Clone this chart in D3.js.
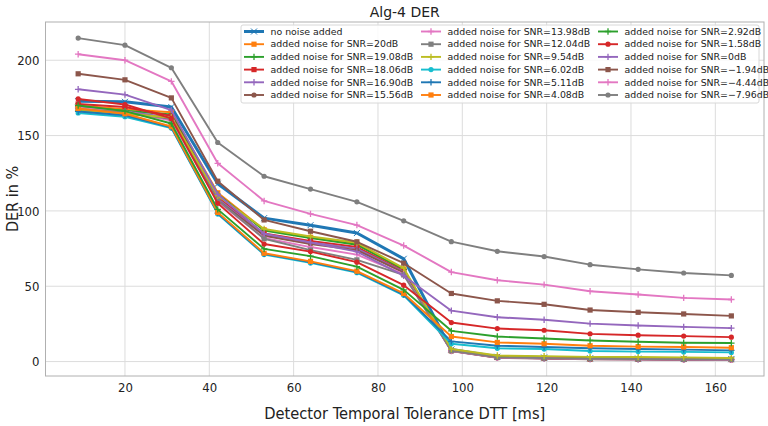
<!DOCTYPE html>
<html>
<head>
<meta charset="utf-8">
<script src="https://cdn.jsdelivr.net/npm/d3@7"></script>
<style>
  body { margin: 0; background: #fff; }
  text { font-family: "DejaVu Sans", sans-serif; }
  .tick text, .axis-label { font-family: "DejaVu Sans Condensed", "DejaVu Sans", sans-serif; font-stretch: condensed; }
</style>
</head>
<body>
<svg width="768" height="426"></svg>
<script>
// DTT values (ms) on the x axis
const dtt = [8.9, 20.0, 31.0, 42.0, 53.0, 64.0, 75.0, 86.1, 97.4, 108.3, 119.4, 130.3, 141.7, 152.5, 163.8];

const seriesLabels = [
  "no noise added",
  "added noise for SNR=20dB",
  "added noise for SNR=19.08dB",
  "added noise for SNR=18.06dB",
  "added noise for SNR=16.90dB",
  "added noise for SNR=15.56dB",
  "added noise for SNR=13.98dB",
  "added noise for SNR=12.04dB",
  "added noise for SNR=9.54dB",
  "added noise for SNR=6.02dB",
  "added noise for SNR=5.11dB",
  "added noise for SNR=4.08dB",
  "added noise for SNR=2.92dB",
  "added noise for SNR=1.58dB",
  "added noise for SNR=0dB",
  "added noise for SNR=\u22121.94dB",
  "added noise for SNR=\u22124.44dB",
  "added noise for SNR=\u22127.96dB"
];

// DER in % for each series
const derNoNoise = [172.8, 172.4, 168.9, 118.0, 95.2, 90.5, 85.3, 68.2, 8.0, 3.2, 2.7, 2.2, 2.0, 1.8, 1.6];
const der20 = [170.0, 167.5, 165.5, 112.0, 87.5, 82.5, 78.0, 61.5, 7.5, 3.0, 2.4, 1.9, 1.8, 1.6, 1.5];
const der1908 = [169.0, 166.5, 164.0, 111.0, 87.0, 82.0, 77.5, 61.0, 7.3, 2.8, 2.3, 1.8, 1.7, 1.5, 1.4];
const der1806 = [171.0, 169.0, 163.0, 109.0, 85.0, 80.0, 76.0, 60.0, 7.2, 2.7, 2.2, 1.7, 1.6, 1.4, 1.3];
const der1690 = [168.0, 166.0, 162.0, 108.0, 84.0, 79.0, 75.0, 59.5, 7.1, 2.6, 2.1, 1.6, 1.5, 1.3, 1.2];
const der1556 = [167.0, 165.0, 161.0, 107.0, 83.5, 78.0, 74.0, 59.0, 7.0, 2.5, 2.0, 1.5, 1.4, 1.2, 1.1];
const der1398 = [168.5, 166.0, 160.0, 106.0, 82.0, 76.0, 71.0, 58.0, 7.0, 2.6, 2.1, 1.6, 1.5, 1.3, 1.2];
const der1204 = [167.5, 165.5, 161.0, 107.0, 81.5, 74.0, 67.5, 57.5, 7.2, 2.8, 2.3, 1.8, 1.7, 1.5, 1.4];
const der954 = [166.5, 164.5, 162.0, 110.0, 88.0, 83.0, 79.0, 62.0, 8.3, 4.0, 3.6, 3.1, 3.0, 2.8, 2.4];
const der602 = [165.0, 162.5, 155.0, 98.0, 71.0, 65.5, 59.0, 44.0, 11.8, 8.8, 8.3, 7.0, 6.6, 6.4, 6.1];
const der511 = [166.0, 163.5, 155.5, 98.5, 71.5, 66.0, 59.5, 44.5, 13.4, 10.5, 9.7, 8.8, 8.3, 7.9, 7.4];
const der408 = [168.0, 164.5, 156.0, 99.0, 71.9, 66.5, 60.0, 45.2, 16.6, 12.7, 11.8, 10.5, 9.9, 9.7, 9.2];
const der292 = [170.0, 166.2, 158.0, 101.0, 74.8, 70.0, 63.0, 47.6, 20.4, 16.6, 15.3, 14.0, 13.2, 12.5, 12.3];
const der158 = [174.3, 170.6, 161.4, 105.0, 78.0, 73.0, 66.0, 50.7, 25.9, 21.9, 20.8, 18.4, 17.5, 16.9, 16.2];
const der0 = [180.7, 177.2, 166.9, 111.0, 84.8, 79.0, 73.0, 57.0, 33.8, 29.4, 27.8, 25.2, 23.9, 23.0, 22.2];
const derM194 = [191.0, 187.0, 175.0, 119.7, 94.0, 86.5, 79.5, 65.3, 45.2, 40.3, 38.0, 34.2, 32.7, 31.6, 30.3];
const derM444 = [204.0, 200.0, 186.0, 131.6, 106.6, 98.0, 90.6, 77.0, 59.4, 54.0, 51.1, 46.7, 44.5, 42.3, 41.2];
const derM796 = [214.7, 210.0, 195.0, 145.4, 123.0, 114.5, 106.0, 93.4, 79.6, 73.2, 69.7, 64.3, 61.2, 58.8, 57.2];

const xTicks = [20, 40, 60, 80, 100, 120, 140, 160];
const yTicks = [0, 50, 100, 150, 200];

const allSeries = [derNoNoise, der20, der1908, der1806, der1690, der1556, der1398, der1204, der954,
  der602, der511, der408, der292, der158, der0, derM194, derM444, derM796];
const markers = ["x", "s", "+", "s", "+", "o", "+", "s", "+", "o", "+", "s", "+", "o", "+", "s", "+", "o"];
const colors = d3.schemeCategory10;

const svg = d3.select("svg");

// plot area
const margin = { top: 22, bottom: 50, left: 45.5, right: 4 };
const width = 768 - margin.left - margin.right;
const height = 426 - margin.top - margin.bottom;

const graph = svg.append("g")
  .attr("transform", `translate(${margin.left},${margin.top})`);

// 5% padding like matplotlib
const xMin = d3.min(dtt), xMax = d3.max(dtt);
const yMin = d3.min(allSeries, s => d3.min(s)), yMax = d3.max(allSeries, s => d3.max(s));
const xPad = (xMax - xMin) * 0.05, yPad = (yMax - yMin) * 0.05;

const x = d3.scaleLinear().domain([xMin - xPad, xMax + xPad]).range([0, width]);
const y = d3.scaleLinear().domain([yMin - yPad, yMax + yPad]).range([height, 0]);

// grid
graph.append("g").selectAll("line").data(xTicks).enter().append("line")
  .attr("x1", d => x(d)).attr("x2", d => x(d))
  .attr("y1", 0).attr("y2", height)
  .attr("stroke", "#dcdcdc").attr("stroke-width", 1);
graph.append("g").selectAll("line").data(yTicks).enter().append("line")
  .attr("x1", 0).attr("x2", width)
  .attr("y1", d => y(d)).attr("y2", d => y(d))
  .attr("stroke", "#dcdcdc").attr("stroke-width", 1);

// axes (no tick marks)
const xAxisGroup = graph.append("g").attr("transform", `translate(0,${height})`)
  .call(d3.axisBottom(x).tickValues(xTicks).tickSize(0).tickPadding(7));
const yAxisGroup = graph.append("g")
  .call(d3.axisLeft(y).tickValues(yTicks).tickSize(0).tickPadding(6));
[xAxisGroup, yAxisGroup].forEach(g => {
  g.select(".domain").remove();
  g.selectAll("text").attr("font-size", 13).attr("fill", "#222");
});

// frame
graph.append("rect")
  .attr("width", width).attr("height", height)
  .attr("fill", "none").attr("stroke", "#b0b0b0").attr("stroke-width", 1);

function drawMarker(g, type, color) {
  if (type === "o") {
    g.append("circle").attr("r", 2.6).attr("fill", color);
  } else if (type === "s") {
    g.append("rect").attr("x", -2.6).attr("y", -2.6).attr("width", 5.2).attr("height", 5.2).attr("fill", color);
  } else if (type === "+") {
    g.append("path").attr("d", "M-3.2,0H3.2M0,-3.2V3.2").attr("stroke", color).attr("stroke-width", 1.3);
  } else {
    g.append("path").attr("d", "M-3,-3L3,3M-3,3L3,-3").attr("stroke", color).attr("stroke-width", 1);
  }
}

const line = d3.line().x((d, i) => x(dtt[i])).y(d => y(d));

allSeries.forEach((vals, k) => {
  const color = colors[k % 10];
  const g = graph.append("g");
  g.append("path")
    .datum(vals)
    .attr("d", line)
    .attr("fill", "none")
    .attr("stroke", color)
    .attr("stroke-width", k === 0 ? 3 : 1.9)
    .attr("stroke-linejoin", "round");
  vals.forEach((v, i) => {
    const m = g.append("g").attr("transform", `translate(${x(dtt[i])},${y(v)})`);
    drawMarker(m, markers[k], color);
  });
});

// title + axis labels
svg.append("text")
  .attr("x", margin.left + width / 2).attr("y", 17)
  .attr("text-anchor", "middle").attr("font-size", 14).attr("fill", "#222")
  .text("Alg-4 DER");
svg.append("text").attr("class", "axis-label")
  .attr("x", margin.left + width / 2).attr("y", 419)
  .attr("text-anchor", "middle").attr("font-size", 16.3).attr("fill", "#222")
  .text("Detector Temporal Tolerance DTT [ms]");
svg.append("text").attr("class", "axis-label")
  .attr("transform", `translate(18,${margin.top + height / 2}) rotate(-90)`)
  .attr("text-anchor", "middle").attr("font-size", 16).attr("fill", "#222")
  .text("DER in %");

// legend
const legend = svg.append("g").attr("transform", "translate(241,25)");
legend.append("rect")
  .attr("width", 518).attr("height", 78).attr("rx", 2)
  .attr("fill", "rgba(255,255,255,0.85)").attr("stroke", "#d8d8d8");
const colX = [3, 180, 357];
seriesLabels.forEach((label, k) => {
  const col = Math.floor(k / 6), row = k % 6;
  const item = legend.append("g")
    .attr("transform", `translate(${colX[col]},${6.5 + row * 12.7})`);
  item.append("line").attr("x1", 0).attr("x2", 20)
    .attr("stroke", colors[k % 10]).attr("stroke-width", k === 0 ? 3 : 1.9);
  drawMarker(item.append("g").attr("transform", "translate(10,0)"), markers[k], colors[k % 10]);
  item.append("text").attr("x", 26.5).attr("dy", "0.35em")
    .attr("font-size", 9.4).attr("fill", "#222").text(label);
});
</script>
</body>
</html>
